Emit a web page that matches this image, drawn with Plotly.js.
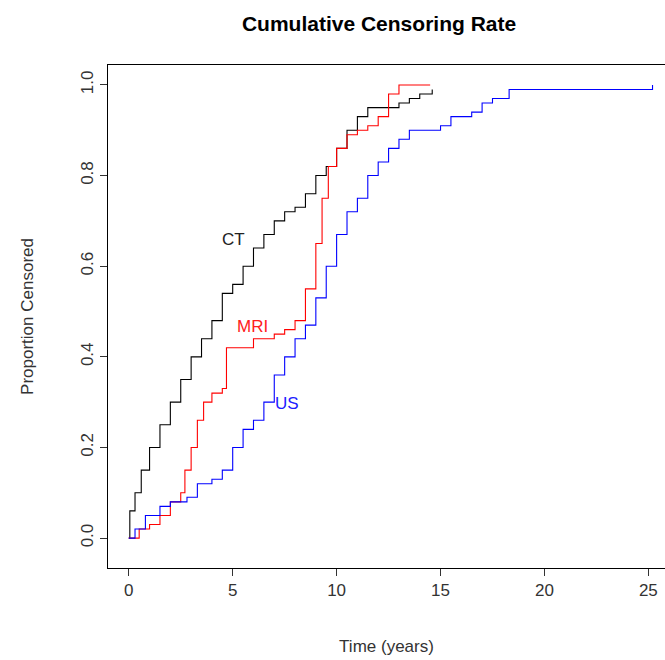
<!DOCTYPE html>
<html>
<head>
<script src="https://cdn.plot.ly/plotly-3.0.1.min.js"></script>
<style>body{margin:0;background:#fff}</style>
</head>
<body>
<div id="chart" style="width:665px;height:660px"></div>
<script>
const ctTime = [0, 0.05, 0.3, 0.6, 1, 1.5, 2, 2.5, 3, 3.5, 4, 4.5, 5, 5.5, 6, 6.5, 7, 7.5, 8, 8.5, 9, 9.5, 10, 10.5, 11, 11.5, 12.5, 13, 13.5, 14, 14.6];
const ctRate = [0, 0.06, 0.1, 0.15, 0.2, 0.25, 0.3, 0.35, 0.4, 0.44, 0.48, 0.54, 0.56, 0.6, 0.64, 0.67, 0.7, 0.72, 0.73, 0.76, 0.8, 0.82, 0.86, 0.9, 0.93, 0.95, 0.95, 0.96, 0.97, 0.98, 0.99];
const mriTime = [0, 0.5, 1, 1.5, 2, 2.5, 2.7, 3, 3.3, 3.6, 4, 4.5, 4.7, 5, 6, 7, 7.5, 8, 8.5, 9, 9.3, 9.6, 10, 10.5, 11, 11.5, 12, 12.5, 13, 14.5];
const mriRate = [0, 0.02, 0.03, 0.05, 0.08, 0.1, 0.15, 0.2, 0.26, 0.3, 0.32, 0.33, 0.42, 0.42, 0.44, 0.45, 0.46, 0.48, 0.55, 0.65, 0.75, 0.82, 0.86, 0.89, 0.9, 0.91, 0.93, 0.98, 1.0, 1.0];
const usTime = [0, 0.3, 0.8, 1.5, 2, 2.8, 3.3, 4, 4.5, 5, 5.5, 6, 6.5, 7, 7.5, 8, 8.5, 9, 9.5, 10, 10.5, 11, 11.5, 12, 12.5, 13, 13.5, 15, 15.5, 16.5, 17, 17.5, 18.3, 25, 25.2];
const usRate = [0, 0.02, 0.05, 0.07, 0.08, 0.09, 0.12, 0.13, 0.15, 0.2, 0.24, 0.26, 0.3, 0.36, 0.4, 0.44, 0.47, 0.53, 0.6, 0.67, 0.72, 0.75, 0.8, 0.83, 0.86, 0.88, 0.9, 0.91, 0.93, 0.94, 0.96, 0.97, 0.99, 0.99, 1.0];

const labels = [
  { text: "CT", x: 5.05, y: 0.66, color: "#222" },
  { text: "MRI", x: 5.96, y: 0.468, color: "#ff2020" },
  { text: "US", x: 7.6, y: 0.296, color: "#2020ff" },
];

const step = (x, y, color) => ({
  x, y, type: "scatter", mode: "lines",
  line: { shape: "hv", color, width: 1.1 }, hoverinfo: "skip",
});

const axisFont = { family: "Arial, Liberation Sans", size: 17, color: "#333" };

const layout = {
  width: 665, height: 660,
  margin: { l: 108, r: 0, t: 65, b: 92 },
  showlegend: false,
  paper_bgcolor: "#fff", plot_bgcolor: "#fff",
  title: { text: "<b>Cumulative Censoring Rate</b>", x: 0.57, y: 0.975, font: { family: "Arial, Liberation Sans", size: 21, color: "#000" } },
  xaxis: {
    range: [-1.0, 25.8], tickvals: [0, 5, 10, 15, 20, 25], showgrid: false, zeroline: false,
    showline: true, mirror: true, linecolor: "#000", ticks: "outside", ticklen: 7, tickcolor: "#333",
    tickfont: axisFont, title: { text: "Time (years)", font: axisFont, standoff: 40 },
  },
  yaxis: {
    range: [-0.066, 1.044], tickvals: [0, 0.2, 0.4, 0.6, 0.8, 1.0], ticktext: ["0.0", "0.2", "0.4", "0.6", "0.8", "1.0"],
    showgrid: false, zeroline: false, tickangle: -90,
    showline: true, mirror: true, linecolor: "#000", ticks: "outside", ticklen: 7, tickcolor: "#333",
    tickfont: axisFont, title: { text: "Proportion Censored", font: axisFont, standoff: 40 },
  },
  annotations: labels.map(l => ({ text: l.text, x: l.x, y: l.y, showarrow: false, font: { family: "Arial, Liberation Sans", size: 17, color: l.color } })),
};

Plotly.newPlot("chart", [
  step(ctTime, ctRate, "#000"),
  step(mriTime, mriRate, "#ff0000"),
  step(usTime, usRate, "#0000ff"),
], layout, { staticPlot: true });
</script>
</body>
</html>
